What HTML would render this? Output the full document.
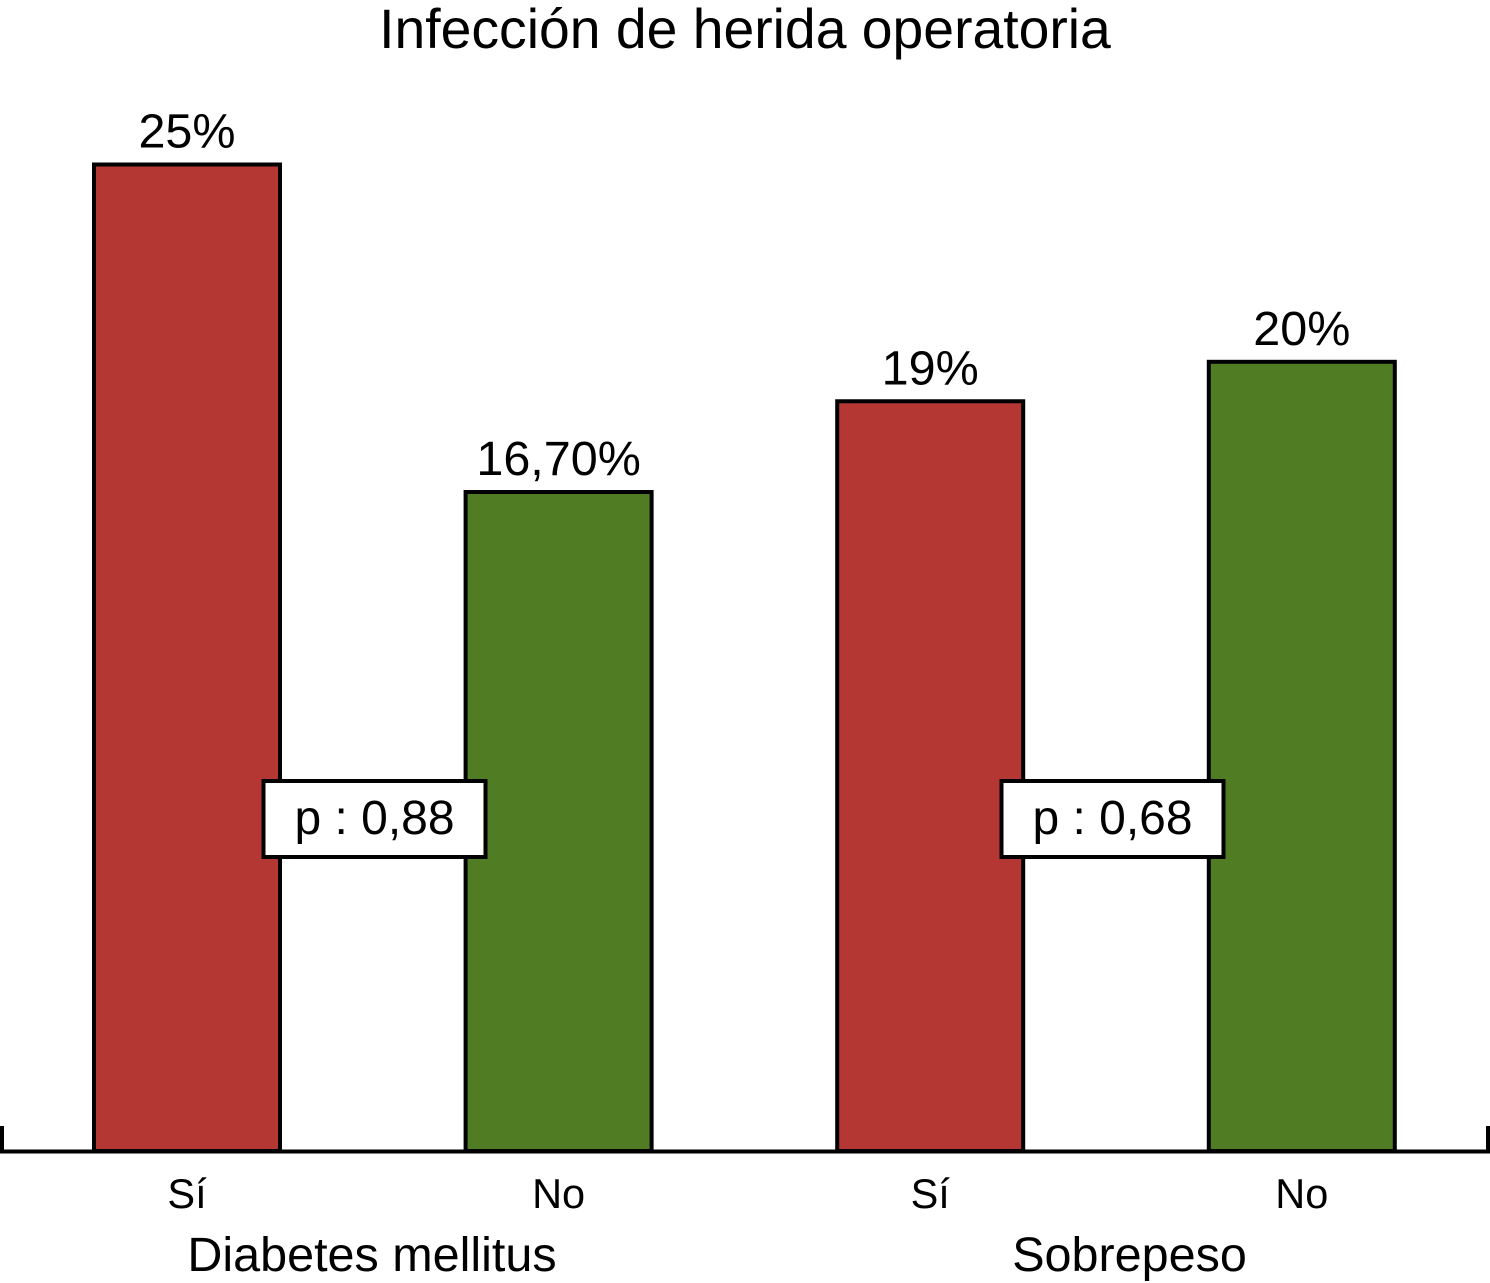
<!DOCTYPE html>
<html lang="es">
<head>
<meta charset="utf-8">
<title>Infección de herida operatoria</title>
<style>
html,body{margin:0;padding:0;background:#fff;width:1490px;height:1283px;overflow:hidden}
svg{display:block}
text{font-family:"Liberation Sans",Arial,sans-serif;fill:#000}
</style>
</head>
<body>
<svg id="chart" width="1490" height="1283" viewBox="0 0 1490 1283" xmlns="http://www.w3.org/2000/svg">
<text x="745" y="48" font-size="55.3" text-anchor="middle">Infección de herida operatoria</text>
<g id="bars"></g>
<path d="M2 1126V1151.5H1488V1126" fill="none" stroke="#000" stroke-width="4"/>
<g id="labels"></g>
<text x="372" y="1271" font-size="48.5" text-anchor="middle">Diabetes mellitus</text>
<text x="1129.5" y="1271" font-size="48.5" text-anchor="middle">Sobrepeso</text>
<g>
<rect x="263.5" y="781" width="222" height="76" fill="#fff" stroke="#000" stroke-width="4"/>
<text x="374.5" y="834" font-size="48" text-anchor="middle">p : 0,88</text>
</g>
<g>
<rect x="1001.5" y="781" width="222" height="76" fill="#fff" stroke="#000" stroke-width="4"/>
<text x="1112.5" y="834" font-size="48" text-anchor="middle">p : 0,68</text>
</g>
</svg>
<script>
const categories = ["Sí", "No", "Sí", "No"];
const values = [25, 16.7, 19, 20];
const valueLabels = ["25%", "16,70%", "19%", "20%"];
const barColors = ["#b53733", "#507d24", "#b53733", "#507d24"];

const NS = "http://www.w3.org/2000/svg";
const baseY = 1151;
const pxPerUnit = 39.46;
const firstCenter = 187;
const step = 371.6;
const barWidth = 186;
const xCenter = i => firstCenter + step * i;
const yScale = v => baseY - v * pxPerUnit;
const barsGroup = document.getElementById("bars");
const labelsGroup = document.getElementById("labels");

values.forEach((v, i) => {
  const r = document.createElementNS(NS, "rect");
  
  
  r.setAttribute("x", xCenter(i) - barWidth / 2);
  r.setAttribute("y", yScale(v));
  r.setAttribute("width", barWidth);
  r.setAttribute("height", baseY - yScale(v));
  r.setAttribute("fill", barColors[i]);
  r.setAttribute("stroke", "#000");
  r.setAttribute("stroke-width", "4");
  barsGroup.appendChild(r);

  const t = document.createElementNS(NS, "text");
  
  
  t.setAttribute("x", xCenter(i));
  t.setAttribute("y", yScale(v) - 17);
  t.setAttribute("font-size", "48.5");
  t.setAttribute("text-anchor", "middle");
  t.textContent = valueLabels[i];
  labelsGroup.appendChild(t);

  const c = document.createElementNS(NS, "text");
  
  
  c.setAttribute("x", xCenter(i));
  c.setAttribute("y", 1208);
  c.setAttribute("font-size", "41.5");
  c.setAttribute("text-anchor", "middle");
  c.textContent = categories[i];
  labelsGroup.appendChild(c);
});
</script>
</body>
</html>
